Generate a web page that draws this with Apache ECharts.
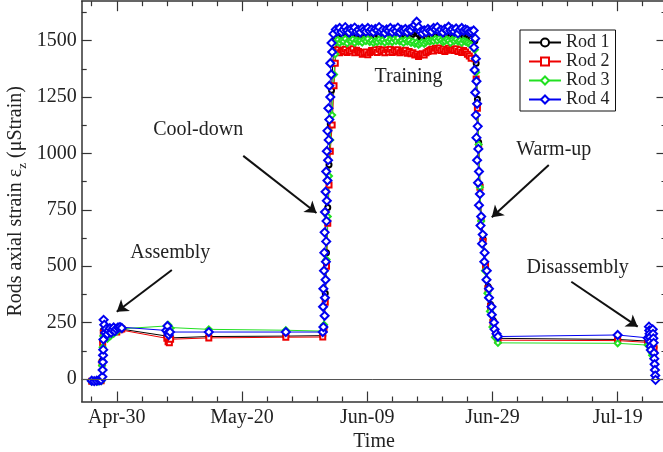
<!DOCTYPE html>
<html>
<head>
    <meta charset="utf-8">
    <script src="https://cdn.jsdelivr.net/npm/echarts@6.0.0/dist/echarts.min.js"></script>
</head>
<body style="margin:0;background:#fff;">
    <div id="main" style="width:663px;height:452px;"></div>
<script>
    // x values are days counted from Apr-30
    var dayTicks = [0, 20, 40, 60, 80];
    var dayLabels = ['Apr-30', 'May-20', 'Jun-09', 'Jun-29', 'Jul-19'];
    var dayMinor = [-4, 4, 8, 12, 16, 24, 28, 32, 36, 44, 48, 52, 56, 64, 68, 72, 76, 84];
    var strainTicks = [0, 250, 500, 750, 1000, 1250, 1500];
    var strainMinor = [125, 375, 625, 875, 1125, 1375, 1625];
    var rodNames = ['Rod 1', 'Rod 2', 'Rod 3', 'Rod 4'];

    // assembly
    var rod1Assembly = [[-4.0,-10],[-3.0,-9],[-2.5,-7],[-2.35,80],[-2.25,170],[-2.15,215],[-1.9,200],[-1.5,205],[-1.0,210],[-0.5,215],[0.0,212],[0.5,222],[0.8,224]];
    var rod2Assembly = [[-4.0,-10],[-3.0,-10],[-2.5,-8],[-2.35,70],[-2.25,160],[-2.15,205],[-1.9,195],[-1.5,200],[-1.0,205],[-0.5,210],[0.0,208],[0.5,218],[0.8,222]];
    var rod3Assembly = [[-4.0,-12],[-3.0,-12],[-2.5,-10],[-2.35,60],[-2.25,140],[-2.15,190],[-1.9,180],[-1.5,178],[-1.0,190],[-0.5,200],[0.0,210],[0.5,222],[0.8,228]];
    var rod4Assembly = [[-4.0,-8],[-3.6,-10],[-3.2,-8],[-2.8,-6],[-2.5,-5],[-2.3,10],[-2.26,40],[-2.22,75],[-2.19,105],[-2.16,130],[-2.13,175],[-2.1,262],[-2.0,240],[-1.85,205],[-1.7,222],[-1.5,198],[-1.3,215],[-1.1,225],[-0.9,205],[-0.7,218],[-0.5,228],[-0.3,212],[-0.1,222],[0.2,228],[0.5,230],[0.8,226]];

    // rest before cool-down
    var rod1Rest = [[8.0,190],[8.2,178],[8.4,172],[8.6,182],[14.7,188],[27.0,190],[32.9,192]];
    var rod2Rest = [[8.0,180],[8.2,165],[8.4,160],[8.6,176],[14.7,182],[27.0,185],[32.9,186]];
    var rod3Rest = [[8.0,235],[8.2,240],[8.4,228],[8.6,225],[14.7,220],[27.0,216],[32.9,212]];
    var rod4Rest = [[7.9,215],[8.1,235],[8.2,205],[8.3,195],[8.5,208],[14.7,208],[27.0,208],[32.9,208]];

    // cool-down
    var rod1Cool = [[33.1,230],[33.3,380],[33.5,560],[33.7,760],[33.9,950],[34.1,1130],[34.3,1280],[34.5,1400],[34.7,1480],[34.9,1515]];
    var rod2Cool = [[33.1,220],[33.3,340],[33.5,500],[33.7,690],[33.9,860],[34.1,1010],[34.4,1126],[34.7,1300],[34.9,1400]];
    var rod3Cool = [[33.1,240],[33.3,360],[33.5,530],[33.7,720],[33.9,900],[34.1,1060],[34.4,1170],[34.7,1350],[34.9,1440]];
    var rod4Cool = [[33.0,230],[33.2,280],[32.95,320],[33.25,360],[33.0,400],[33.35,440],[33.1,480],[33.4,520],[33.15,560],[33.45,610],[33.2,650],[33.5,700],[33.25,740],[33.55,790],[33.35,830],[33.65,880],[33.45,920],[33.75,970],[33.55,1010],[33.85,1060],[33.65,1100],[33.95,1150],[33.8,1200],[34.1,1250],[33.95,1300],[34.25,1350],[34.1,1400],[34.4,1450],[34.3,1490],[34.6,1530]];

    // training plateau
    var trainingDays = [
        35.0,35.3,35.6,35.9,36.2,36.5,36.8,37.1,37.4,37.7,
        38.0,38.3,38.6,38.9,39.2,39.5,39.8,40.1,40.4,40.7,
        41.0,41.3,41.6,41.9,42.2,42.5,42.8,43.1,43.4,43.7,
        44.0,44.3,44.6,44.9,45.2,45.5,45.8,46.1,46.4,46.7,
        47.0,47.3,47.6,47.9,48.2,48.5,48.8,49.1,49.4,49.7,
        50.0,50.3,50.6,50.9,51.2,51.5,51.8,52.1,52.4,52.7,
        53.0,53.3,53.6,53.9,54.2,54.5,54.8,55.1,55.4,55.7,
        56.0,56.3,56.6];
    var rod1Training = [
        1520,1528,1516,1530,1522,1534,1518,1526,1530,1520,
        1532,1518,1526,1522,1534,1520,1528,1516,1530,1524,
        1532,1518,1528,1522,1536,1524,1518,1530,1522,1528,
        1534,1520,1530,1518,1532,1524,1526,1520,1530,1524,
        1520,1530,1536,1542,1528,1516,1512,1522,1520,1528,
        1524,1518,1530,1522,1534,1520,1526,1516,1530,1524,
        1532,1520,1528,1518,1530,1514,1526,1532,1520,1526,
        1520,1514,1508];
    var rod2Training = [
        1450,1460,1446,1458,1452,1462,1448,1456,1454,1464,
        1446,1458,1452,1448,1440,1446,1450,1438,1448,1456,
        1452,1460,1448,1462,1452,1458,1446,1460,1450,1462,
        1448,1458,1452,1460,1446,1454,1450,1458,1444,1452,
        1442,1446,1436,1440,1430,1438,1442,1436,1446,1452,
        1458,1462,1454,1466,1460,1468,1456,1462,1452,1460,
        1466,1458,1462,1456,1464,1452,1460,1448,1456,1450,
        1440,1432,1422];
    var rod3Training = [
        1494,1504,1490,1500,1496,1508,1488,1502,1498,1506,
        1490,1502,1496,1500,1492,1504,1498,1508,1494,1500,
        1490,1498,1494,1506,1496,1504,1492,1510,1496,1506,
        1494,1508,1498,1512,1496,1500,1490,1504,1496,1502,
        1490,1496,1486,1492,1482,1488,1494,1486,1494,1500,
        1496,1502,1498,1508,1500,1510,1502,1494,1498,1506,
        1500,1490,1504,1498,1506,1496,1500,1490,1500,1496,
        1492,1486,1480];
    var rod4Training = [
        1550,1542,1556,1538,1548,1560,1545,1536,1552,1544,
        1558,1540,1548,1536,1554,1546,1540,1556,1542,1550,
        1538,1552,1546,1560,1540,1548,1534,1550,1544,1556,
        1538,1550,1542,1558,1536,1548,1544,1552,1538,1550,
        1546,1562,1570,1584,1560,1540,1532,1546,1538,1552,
        1544,1540,1556,1550,1560,1542,1548,1536,1552,1546,
        1562,1544,1550,1540,1554,1532,1548,1556,1544,1550,
        1546,1538,1540];

    // warm-up
    var rod1Warm = [[57.2,1500],[57.4,1400],[57.6,1240],[57.8,1050],[58.0,860],[58.2,720],[58.5,620],[58.9,510],[59.3,410],[59.7,330],[60.1,260],[60.5,205],[60.88,180]];
    var rod2Warm = [[57.2,1420],[57.4,1330],[57.6,1200],[57.8,1030],[58.0,850],[58.2,710],[58.5,610],[58.9,500],[59.3,400],[59.7,320],[60.1,250],[60.5,200],[60.88,172]];
    var rod3Warm = [[57.2,1460],[57.4,1360],[57.6,1220],[57.8,1040],[58.0,850],[58.2,700],[58.4,600],[58.8,480],[59.2,380],[59.6,300],[60.0,230],[60.4,185],[60.88,160]];
    var rod4Warm = [[57.0,1545],[57.25,1510],[57.05,1470],[57.35,1420],[57.15,1370],[57.45,1320],[57.25,1270],[57.55,1220],[57.35,1170],[57.65,1120],[57.45,1070],[57.75,1020],[57.55,970],[57.85,920],[57.7,870],[58.0,820],[57.85,770],[58.2,720],[58.1,680],[58.45,640],[58.35,600],[58.75,560],[58.7,520],[59.1,480],[59.05,440],[59.45,400],[59.45,360],[59.85,320],[59.9,285],[60.25,250],[60.35,220],[60.65,200],[60.88,188]];

    // disassembly
    var rod1Final = [[80.0,175],[84.8,168],[85.1,172],[85.3,160],[85.6,150],[85.8,140]];
    var rod2Final = [[80.0,170],[84.8,162],[85.1,165],[85.3,155],[85.6,145],[85.8,135]];
    var rod3Final = [[80.0,158],[84.8,150],[85.1,145],[85.2,140],[85.4,120],[85.5,105],[85.6,112]];
    var rod4Final = [[80.0,195],[84.8,182],[85.0,232],[85.05,215],[85.1,200],[85.15,185],[85.2,165],[85.25,145],[85.3,128],[85.6,220],[85.65,200],[85.7,180],[85.75,160],[85.8,115],[85.85,90],[85.9,65],[85.95,40],[86.0,15],[86.05,-4]];

    // annotations (day, strain)
    var notes = [
        {name: 'Assembly', coord: [8.56, 559]},
        {name: 'Cool-down', coord: [13.0, 1104]},
        {name: 'Training', coord: [46.6, 1339]},
        {name: 'Warm-up', coord: [69.8, 1015]},
        {name: 'Disassembly', coord: [73.6, 492]}
    ];
    var arrows = [
        [[8.8, 483], [0.0, 298]],
        [[20.2, 989], [31.9, 736]],
        [[69.0, 949], [59.9, 717]],
        [[72.6, 431], [83.2, 232]]
    ];

    function rodData(assembly, rest, cool, training, warm, fin) {
        var plateau = trainingDays.map(function (d, i) { return [d, training[i]]; });
        return [].concat(assembly, rest, cool, plateau, warm, fin);
    }

    var serif = 'Liberation Serif, DejaVu Serif, serif';
    var frameLine = {color: '#333', width: 1.5};

    function xAxisPart(pos, ticks, len, withLabels, lineOn) {
        return {
            type: 'value', position: pos, min: -5.6, max: 87.8,
            axisLine: {show: lineOn, onZero: false, lineStyle: frameLine},
            axisTick: {show: true, inside: true, length: len, customValues: ticks, lineStyle: {color: '#333', width: 1.2}},
            axisLabel: withLabels ? {
                customValues: dayTicks, margin: 6, color: '#222', fontFamily: serif, fontSize: 20,
                formatter: function (v) { return dayLabels[dayTicks.indexOf(v)]; }
            } : {show: false},
            splitLine: {show: false}
        };
    }
    function yAxisPart(pos, ticks, len, withLabels, lineOn) {
        return {
            type: 'value', position: pos, min: -100, max: 1675,
            axisLine: {show: lineOn, onZero: false, lineStyle: frameLine},
            axisTick: {show: true, inside: true, length: len, customValues: ticks, lineStyle: {color: '#333', width: 1.2}},
            axisLabel: withLabels ? {
                customValues: strainTicks, margin: 5, color: '#222', fontFamily: serif, fontSize: 20,
                formatter: function (v) { return String(v); }
            } : {show: false},
            splitLine: {show: false}
        };
    }

    var xAxes = [
        xAxisPart('bottom', dayTicks, 10, true, true),
        xAxisPart('bottom', dayMinor, 5, false, false),
        xAxisPart('top', dayTicks, 10, false, true),
        xAxisPart('top', dayMinor, 5, false, false)
    ];
    xAxes[0].name = 'Time';
    xAxes[0].nameLocation = 'middle';
    xAxes[0].nameGap = 30;
    xAxes[0].nameMoveOverlap = false;
    xAxes[0].nameTextStyle = {fontFamily: serif, fontSize: 20, color: '#222'};

    var yAxes = [
        yAxisPart('left', strainTicks, 10, true, true),
        yAxisPart('left', strainMinor, 5, false, false),
        yAxisPart('right', strainTicks, 10, false, true),
        yAxisPart('right', strainMinor, 5, false, false)
    ];
    yAxes[0].name = 'Rods axial strain \u03b5{z|z} (\u03bcStrain)';
    yAxes[0].nameLocation = 'middle';
    yAxes[0].nameGap = 53;
    yAxes[0].nameMoveOverlap = false;
    yAxes[0].nameTextStyle = {
        fontFamily: serif, fontSize: 20, color: '#222',
        rich: {z: {fontFamily: serif, fontSize: 13, color: '#222', padding: [12, 0, 0, 0]}}
    };

    var styles = [
        {color: '#000000', symbol: 'emptyCircle', size: 5, border: 1.5},
        {color: '#ee0000', symbol: 'emptyRect', size: 5, border: 1.5},
        {color: '#22e022', symbol: 'emptyDiamond', size: 6, border: 1.5},
        {color: '#0000f0', symbol: 'emptyDiamond', size: 8, border: 1.8}
    ];
    var datasets = [
        rodData(rod1Assembly, rod1Rest, rod1Cool, rod1Training, rod1Warm, rod1Final),
        rodData(rod2Assembly, rod2Rest, rod2Cool, rod2Training, rod2Warm, rod2Final),
        rodData(rod3Assembly, rod3Rest, rod3Cool, rod3Training, rod3Warm, rod3Final),
        rodData(rod4Assembly, rod4Rest, rod4Cool, rod4Training, rod4Warm, rod4Final)
    ];

    var series = rodNames.map(function (name, i) {
        var s = styles[i];
        return {
            name: name, type: 'line', data: datasets[i],
            symbol: s.symbol, symbolSize: s.size, showAllSymbol: true,
            lineStyle: {color: s.color, width: 1},
            itemStyle: {color: s.color, borderColor: s.color, borderWidth: s.border},
            emphasis: {disabled: true}
        };
    });
    // zero line under the data
    series.unshift({
        name: 'zero', type: 'line', data: [], silent: true, z: 1,
        markLine: {
            silent: true, symbol: ['none', 'none'], label: {show: false},
            lineStyle: {color: '#555', width: 1, type: 'solid'},
            data: [{yAxis: 0}]
        }
    });
    series.push({
        name: 'notes', type: 'line', data: [], silent: true, z: 5,
        markLine: {
            silent: true, symbol: ['none', 'arrow'], symbolSize: 11, label: {show: false},
            lineStyle: {color: '#111', width: 2, type: 'solid'},
            data: arrows.map(function (a) { return [{coord: a[0]}, {coord: a[1]}]; })
        },
        markPoint: {
            silent: true, symbol: 'circle', symbolSize: 1,
            itemStyle: {color: 'rgba(0,0,0,0)'},
            label: {show: true, position: 'inside', formatter: '{b}', color: '#222', fontFamily: serif, fontSize: 20},
            data: notes
        }
    });

    var chart = echarts.init(document.getElementById('main'));
    chart.setOption({
        animation: false,
        backgroundColor: '#ffffff',
        grid: {left: 81.7, right: -3.5, top: 1.2, bottom: 50.5, outerBoundsMode: 'none'},
        legend: {
            data: rodNames, orient: 'vertical', left: 520, top: 30,
            padding: [3, 6, 2, 8], itemGap: 0, itemWidth: 32, itemHeight: 10,
            borderColor: '#111', borderWidth: 1, backgroundColor: '#fff',
            textStyle: {fontFamily: serif, fontSize: 18, color: '#222', lineHeight: 19}
        },
        xAxis: xAxes,
        yAxis: yAxes,
        series: series
    });
</script>
</body>
</html>
